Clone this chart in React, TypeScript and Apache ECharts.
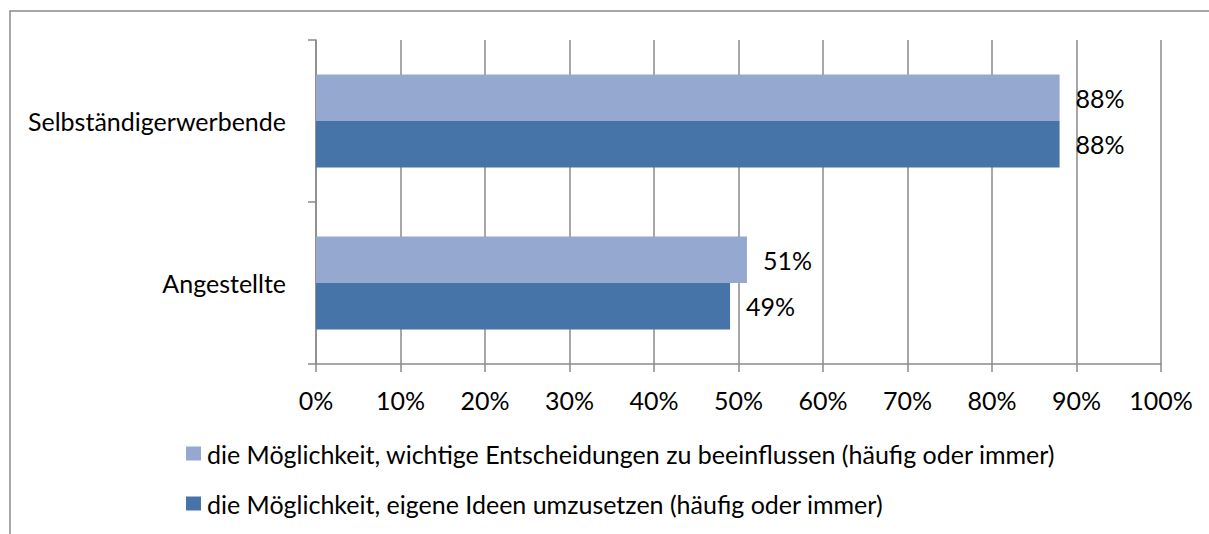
import React, { useEffect, useRef } from "react";
import * as echarts from "echarts";

const categories = ["Angestellte", "Selbständigerwerbende"];
const seriesNames = [
  "die Möglichkeit, wichtige Entscheidungen zu beeinflussen (häufig oder immer)",
  "die Möglichkeit, eigene Ideen umzusetzen (häufig oder immer)",
];
const entscheidungen = [51, 88];
const ideen = [49, 88];
const xTicks = [0, 10, 20, 30, 40, 50, 60, 70, 80, 90, 100];

const FONT = "Lato";
const FS = 25;

export default function App() {
  const ref = useRef<HTMLDivElement>(null);
  useEffect(() => {
    const chart = echarts.init(ref.current!, null, { renderer: "svg" });
    const label = {
      show: true,
      position: "right",
      distance: 16,
      formatter: (p: any) => p.value + "%",
      color: "#000",
      fontFamily: FONT,
      fontSize: FS,
    };
    chart.setOption({
      animation: false,
      textStyle: { fontFamily: FONT },
      graphic: [
        {
          type: "rect",
          shape: { x: 10, y: 11, width: 1400, height: 800 },
          style: { fill: "none", stroke: "#8a8a8a", lineWidth: 1.5 },
          silent: true,
        },
      ],
      grid: { left: 316, top: 40, right: 48, bottom: 170, containLabel: false },
      legend: {
        orient: "vertical",
        left: 186,
        top: 441,
        padding: 0,
        itemWidth: 15,
        itemHeight: 14,
        itemGap: 25,
        icon: "rect",
        data: [seriesNames[0], seriesNames[1]],
        textStyle: { fontFamily: FONT, fontSize: FS, color: "#000", lineHeight: 25, padding: [0, 0, 0, 1] },
      },
      xAxis: {
        type: "value",
        min: 0,
        max: 100,
        interval: 10,
        axisLine: { show: true, lineStyle: { color: "#8a8a8a", width: 1.5 } },
        axisTick: { show: true, length: 8, lineStyle: { color: "#8a8a8a", width: 1.5 } },
        splitLine: { show: true, lineStyle: { color: "#8a8a8a", width: 1.5 } },
        axisLabel: {
          formatter: (v: number) => (xTicks.includes(v) ? v + "%" : ""),
          color: "#000",
          fontFamily: FONT,
          fontSize: FS,
          margin: 23,
        },
      },
      yAxis: {
        type: "category",
        data: categories,
        axisLine: { show: true, lineStyle: { color: "#8a8a8a", width: 1.5 } },
        axisTick: { show: true, length: 8, lineStyle: { color: "#8a8a8a", width: 1.5 } },
        axisLabel: { color: "#000", fontFamily: FONT, fontSize: FS, margin: 30 },
      },
      series: [
        {
          name: seriesNames[0],
          type: "bar",
          data: entscheidungen,
          itemStyle: { color: "#95a9d0" },
          barGap: "0%",
          barCategoryGap: "42.6%",
          label,
        },
        {
          name: seriesNames[1],
          type: "bar",
          data: ideen,
          itemStyle: { color: "#4673a8" },
          barGap: "0%",
          barCategoryGap: "42.6%",
          label,
        },
      ],
    });
    return () => chart.dispose();
  }, []);
  return (
    <div
      ref={ref}
      style={{ position: "fixed", left: 0, top: 0, width: 1209, height: 534, background: "#fff" }}
    />
  );
}
